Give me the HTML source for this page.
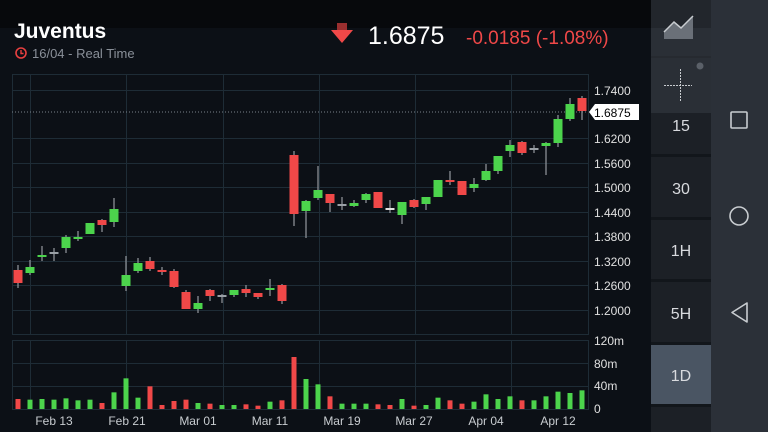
<!DOCTYPE html>
<html><head><meta charset="utf-8"><style>
html,body{margin:0;padding:0;background:#0c1016;width:768px;height:432px;overflow:hidden;font-family:"Liberation Sans",sans-serif}
</style></head><body>
<svg width="768" height="432" xmlns="http://www.w3.org/2000/svg" style="position:absolute;left:0;top:0" id="s">
<rect x="0" y="0" width="768" height="432" fill="#0c1016"/>
<rect x="0" y="0" width="651" height="28" fill="#07090c"/>
<text x="14" y="38" fill="#fff" font-size="21" font-weight="bold">Juventus</text>
<circle cx="21" cy="53" r="5" fill="none" stroke="#e84040" stroke-width="1.6"/>
<path d="M21 50v3.5h2.5" stroke="#e84040" stroke-width="1.4" fill="none"/>
<text x="32" y="58" fill="#8a9099" font-size="13">16/04 - Real Time</text>
<rect x="337" y="23" width="10" height="7" fill="#9a2f2f"/>
<path d="M331 30h22l-11 13z" fill="#f04848"/>
<text x="368" y="44" fill="#fff" font-size="25">1.6875</text>
<text x="466" y="44" fill="#f04848" font-size="19">-0.0185  (-1.08%)</text>
<g stroke="#1e2c36" stroke-width="1" fill="none" id="grid">
<rect x="12.5" y="74.5" width="576" height="260"/>
<rect x="12.5" y="340.5" width="576" height="69"/>
</g>
<g font-size="12" fill="#e0e0e0">
<text x="594" y="95">1.7400</text><text x="594" y="143">1.6200</text><text x="594" y="168">1.5600</text>
<text x="594" y="192">1.5000</text><text x="594" y="217">1.4400</text><text x="594" y="241">1.3800</text>
<text x="594" y="266">1.3200</text><text x="594" y="290">1.2600</text><text x="594" y="315">1.2000</text>
<text x="594" y="345">120m</text><text x="594" y="368">80m</text><text x="594" y="390">40m</text><text x="594" y="413">0</text>
</g>
<line x1="12" y1="112" x2="588" y2="112" stroke="#7a828a" stroke-width="1" stroke-dasharray="1,2"/>
<path d="M589 112l6-8h44v16h-44z" fill="#fff"/>
<text x="594" y="117" font-size="12" fill="#000">1.6875</text>
<g font-size="12" fill="#c8ccd0" text-anchor="middle">
<text x="54" y="425">Feb 13</text><text x="127" y="425">Feb 21</text><text x="198" y="425">Mar 01</text>
<text x="270" y="425">Mar 11</text><text x="342" y="425">Mar 19</text><text x="414" y="425">Mar 27</text>
<text x="486" y="425">Apr 04</text><text x="558" y="425">Apr 12</text>
</g>
<g id="c"></g>
<rect x="651" y="0" width="60" height="432" fill="#1c2026"/>
<rect x="651" y="0" width="60" height="113" fill="#2a2f36"/>
<rect x="651" y="0" width="60" height="28" fill="#22262c"/>
<line x1="651" y1="57" x2="711" y2="57" stroke="#22262b"/>
<path d="M664 32l10-10 7 6 12-12v23h-29z" fill="#6a7078"/>
<path d="M664 32l10-10 7 6 12-12" stroke="#c8ccd0" stroke-width="1.5" fill="none"/>
<circle cx="700" cy="66" r="3.5" fill="#5a6068"/>
<path d="M664 85.5h28M680.5 69v33" stroke="#c8ccd0" stroke-width="1" stroke-dasharray="2,1"/>
<g fill="#12161b"><rect x="651" y="154" width="60" height="3"/><rect x="651" y="217" width="60" height="3"/><rect x="651" y="279" width="60" height="3"/><rect x="651" y="342" width="60" height="3"/><rect x="651" y="404" width="60" height="3"/></g>
<rect x="651" y="345" width="60" height="59" fill="#4a5563"/>
<g font-size="16" fill="#d8dade" text-anchor="middle">
<text x="681" y="131">15</text><text x="681" y="194">30</text><text x="681" y="256">1H</text>
<text x="681" y="319">5H</text><text x="681" y="381">1D</text>
</g>
<rect x="711" y="0" width="57" height="432" fill="#2b3038"/>
<rect x="731" y="112" width="16" height="16" fill="none" stroke="#c8ccd0" stroke-width="1.6" rx="1"/>
<circle cx="739" cy="216" r="9" fill="none" stroke="#c8ccd0" stroke-width="1.6"/>
<path d="M747 303v19l-15-9.5z" fill="none" stroke="#c8ccd0" stroke-width="1.6" stroke-linejoin="round"/>
</svg>
<script>
var g=document.getElementById('grid'),c=document.getElementById('c'),ns="http://www.w3.org/2000/svg";
function el(p,t,a){var e=document.createElementNS(ns,t);for(var k in a)e.setAttribute(k,a[k]);p.appendChild(e);return e;}
[30,126,223,319,415,511].forEach(function(x){el(g,'line',{x1:x+.5,y1:74,x2:x+.5,y2:334});el(g,'line',{x1:x+.5,y1:340,x2:x+.5,y2:409});});
[90,138,163,187,212,236,261,285,310].forEach(function(y){el(g,'line',{x1:12,y1:y+.5,x2:588,y2:y+.5});});
[363,386].forEach(function(y){el(g,'line',{x1:12,y1:y+.5,x2:588,y2:y+.5});});
var d=[["r",270,283,265,288],["g",267,273,260,275],["g",255,257,246,261],["k",252,253,248,261],["g",237,248,235,253],["g",237,239,231,241],["g",223,234,223,234],["r",220,225,219,232],["g",209,222,198,227],
["g",275,286,256,291],["g",263,271,258,273],["r",261,269,257,271],["r",270,272,267,275],["r",271,287,269,288],["r",292,309,290,309],["g",303,309,296,313],["r",290,296,289,301],["k",295,296,294,303],["g",290,295,290,297],["r",289,293,285,297],["r",293,297,293,299],["g",288,289,279,296],["r",285,301,284,304],
["r",155,214,151,226],["g",201,211,200,238],["g",190,198,166,200],["r",194,203,194,212],["k",204,205,197,210],["g",203,206,200,207],["g",194,200,193,203],["r",192,208,192,208],["w",208,209,200,213],["g",202,215,202,224],["r",200,207,199,208],["g",197,204,197,210],["g",180,197,180,197],["r",180,181,171,185],["r",181,195,181,195],["g",184,188,178,192],["g",171,180,164,181],["g",156,171,156,174],["g",145,151,140,157],["r",142,153,141,155],["k",148,149,145,153],["g",143,146,142,175],["g",119,143,115,147],["g",104,119,98,121],["r",98,111,96,120]];
var col={r:"#f04848",g:"#4cd44c",k:"#9aa0a6",w:"#e0e0e0"};
var vol=[30,28,30,28,32,26,28,18,50,92,34,68,12,24,28,18,16,12,12,14,10,22,26,156,90,74,38,16,16,16,14,12,30,10,12,34,26,16,22,44,30,38,26,26,38,52,48,56];
var vc="rggggggrgggrrrrgrggrrgrrggrgggrrgrggrrggggrggggg";
d.forEach(function(o,i){var x=18+i*12.0;var cl=col[o[0]];
el(c,'line',{x1:x,y1:o[3],x2:x,y2:o[4],stroke:"#8a8f95","stroke-width":1.3});
el(c,'rect',{x:x-4.5,y:o[1],width:9,height:Math.max(2,o[2]-o[1]),fill:cl});
var h=vol[i]/3;var vcol=vc[i]=="r"?col.r:col.g;
el(c,'rect',{x:x-2.5,y:409-h,width:5,height:h,fill:vcol});});
</script>
</body></html>
